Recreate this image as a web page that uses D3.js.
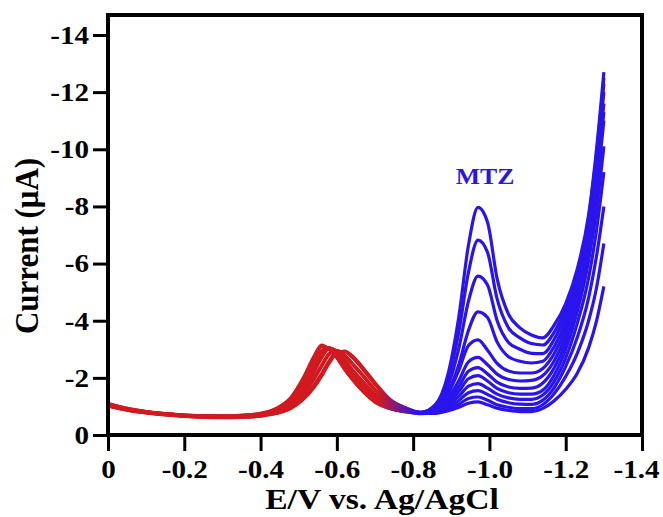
<!DOCTYPE html>
<html>
<head>
<meta charset="utf-8">
<script src="https://cdn.jsdelivr.net/npm/d3@7"></script>
<style>
  body { margin: 0; background: #fff; }
  text { font-family: "Liberation Serif", "Times New Roman", serif; font-weight: bold; }
</style>
</head>
<body>
<script>
// potential grid (V vs Ag/AgCl)
var potential = [0, -0.05, -0.1, -0.15, -0.2, -0.25, -0.3, -0.35, -0.4, -0.44, -0.48, -0.51, -0.54, -0.56, -0.58, -0.6, -0.62, -0.64, -0.67, -0.7, -0.74, -0.78, -0.82,
                 -0.86, -0.89, -0.92, -0.945, -0.97, -0.995, -1.02, -1.05, -1.08, -1.11, -1.14, -1.17, -1.2, -1.23, -1.26, -1.28, -1.3];

// current (uA) for each scan (plotted as negative)
var scan1  = [1.10,0.93,0.82,0.75,0.70,0.67,0.67,0.69,0.76,0.92,1.32,1.95,2.75,3.15,3.00,2.70,2.30,1.95,1.50,1.15,0.92,0.82,0.78, 1.09,2.06,4.16,6.64,7.97,7.45,5.48,4.23,3.75,3.50,3.40,3.85,4.60,5.80,7.70,9.90,12.7];
var scan2  = [1.02,0.88,0.78,0.71,0.66,0.63,0.62,0.63,0.67,0.76,0.95,1.25,1.70,2.10,2.55,2.88,2.93,2.75,2.30,1.80,1.22,0.95,0.80, 1.05,1.87,3.63,5.69,6.82,6.39,4.77,3.75,3.40,3.20,3.15,3.60,4.45,5.65,7.60,9.75,12.5];
var scan3  = [1.08,0.92,0.81,0.74,0.69,0.66,0.66,0.68,0.74,0.89,1.26,1.85,2.62,3.08,3.02,2.76,2.38,2.02,1.56,1.20,0.94,0.83,0.78, 1.00,1.66,3.05,4.68,5.56,5.25,4.01,3.24,3.00,2.86,2.85,3.35,4.25,5.50,7.50,9.60,12.3];
var scan4  = [1.06,0.90,0.80,0.73,0.68,0.65,0.64,0.66,0.71,0.84,1.12,1.55,2.20,2.70,3.02,2.95,2.65,2.30,1.85,1.42,1.05,0.88,0.78, 0.94,1.45,2.48,3.66,4.31,4.11,3.26,2.74,2.58,2.52,2.58,3.10,4.00,5.35,7.35,9.35,12.0];
var scan5  = [1.05,0.89,0.79,0.72,0.67,0.64,0.63,0.65,0.69,0.80,1.04,1.40,1.95,2.40,2.82,2.95,2.80,2.52,2.07,1.60,1.13,0.90,0.78, 0.90,1.40,2.27,3.13,3.33,2.97,2.51,2.24,2.17,2.17,2.33,2.85,3.75,5.15,7.15,9.05,11.6];
var scan6  = [1.07,0.91,0.81,0.74,0.69,0.66,0.65,0.67,0.73,0.87,1.20,1.72,2.45,2.95,3.05,2.85,2.50,2.12,1.66,1.28,0.98,0.84,0.77, 0.88,1.26,1.91,2.56,2.72,2.46,2.13,1.94,1.89,1.91,2.08,2.60,3.50,4.90,6.90,8.80,11.3];
var scan7  = [1.03,0.88,0.78,0.71,0.66,0.63,0.62,0.64,0.68,0.77,0.97,1.28,1.75,2.15,2.60,2.90,2.92,2.72,2.27,1.77,1.20,0.93,0.78, 0.86,1.17,1.70,2.23,2.36,2.14,1.85,1.68,1.63,1.64,1.82,2.35,3.25,4.65,6.60,8.50,11.0];
var scan8  = [1.06,0.90,0.80,0.73,0.68,0.65,0.64,0.66,0.72,0.85,1.14,1.58,2.24,2.74,3.03,2.93,2.62,2.27,1.82,1.40,1.04,0.86,0.77, 0.84,1.10,1.53,1.97,2.08,1.89,1.63,1.48,1.43,1.43,1.57,2.10,3.00,4.30,6.10,7.80,10.1];
var scan9  = [1.09,0.93,0.82,0.75,0.70,0.67,0.66,0.69,0.75,0.91,1.30,1.92,2.70,3.12,3.01,2.72,2.33,1.97,1.52,1.17,0.93,0.81,0.76, 0.82,1.03,1.36,1.71,1.80,1.64,1.43,1.30,1.25,1.25,1.40,1.88,2.70,3.90,5.50,7.10,9.20];
var scan10 = [1.05,0.89,0.79,0.72,0.67,0.64,0.63,0.65,0.70,0.81,1.06,1.43,2.00,2.45,2.85,2.95,2.78,2.49,2.04,1.57,1.11,0.88,0.76, 0.80,0.96,1.21,1.48,1.55,1.42,1.25,1.13,1.08,1.07,1.22,1.66,2.40,3.40,4.80,6.20,8.00];
var scan11 = [1.07,0.91,0.81,0.74,0.69,0.66,0.65,0.67,0.73,0.86,1.18,1.68,2.40,2.90,3.05,2.87,2.53,2.15,1.69,1.30,0.99,0.84,0.75, 0.78,0.90,1.08,1.28,1.33,1.22,1.06,0.97,0.92,0.92,1.06,1.45,2.05,2.85,4.00,5.10,6.70];
var scan12 = [1.02,0.87,0.77,0.70,0.65,0.62,0.61,0.62,0.66,0.75,0.93,1.22,1.66,2.06,2.52,2.86,2.94,2.77,2.33,1.83,1.24,0.95,0.76, 0.76,0.84,0.97,1.11,1.16,1.06,0.94,0.86,0.82,0.82,0.93,1.20,1.60,2.15,3.05,3.95,5.20];
var scans = [scan1, scan2, scan3, scan4, scan5, scan6, scan7, scan8, scan9, scan10, scan11, scan12];

var xTicks = [0, -0.2, -0.4, -0.6, -0.8, -1.0, -1.2, -1.4];
var yTicks = [0, -2, -4, -6, -8, -10, -12, -14];

var width = 663, height = 517;
var stretch = 1.12; // the original figure is a little wider than tall

var svg = d3.select("body").append("svg")
  .attr("width", width)
  .attr("height", height);

var x = d3.scaleLinear().domain([0, -1.4]).range([108, 642]);
var y = d3.scaleLinear().domain([0, -14.7]).range([435, 15]);

// red -> blue along the potential
var defs = svg.append("defs");
var grad = defs.append("linearGradient")
  .attr("id", "scanGrad")
  .attr("gradientUnits", "userSpaceOnUse")
  .attr("x1", x(-0.71)).attr("y1", 0)
  .attr("x2", x(-0.81)).attr("y2", 0);
grad.append("stop").attr("offset", "0%").attr("stop-color", "#d11a1f");
grad.append("stop").attr("offset", "100%").attr("stop-color", "#2a14ee");

var line = d3.line()
  .x(function(d, i) { return x(potential[i]); })
  .y(function(d) { return y(-d); })
  .curve(d3.curveMonotoneX);

svg.append("g")
  .selectAll("path")
  .data(scans)
  .join("path")
  .attr("d", line)
  .attr("fill", "none")
  .attr("stroke", "url(#scanGrad)")
  .attr("stroke-width", 3.2)
  .attr("stroke-linejoin", "round");

// axes
var xAxis = svg.append("g")
  .attr("transform", "translate(0,435)")
  .call(d3.axisBottom(x).tickValues(xTicks).tickSize(16).tickPadding(9)
    .tickFormat(function(d) { return d === 0 ? "0" : "-" + Math.abs(d).toFixed(1); }));

var yAxis = svg.append("g")
  .attr("transform", "translate(108,0)")
  .call(d3.axisLeft(y).tickValues(yTicks).tickSize(15).tickPadding(4)
    .tickFormat(function(d) { return d === 0 ? "0" : "-" + Math.abs(d); }));

[xAxis, yAxis].forEach(function(g) {
  g.select(".domain").remove();
  g.selectAll(".tick line").attr("stroke", "#000").attr("stroke-width", 3);
  g.selectAll(".tick text")
    .attr("fill", "#000")
    .style("font-size", "26px");
});
xAxis.selectAll(".tick text")
  .attr("x", function(d) { return d === -1.4 ? -6 / stretch : 0; })
  .attr("transform", "scale(" + stretch + ",1)");
yAxis.selectAll(".tick text")
  .attr("x", -19 / stretch)
  .attr("transform", "scale(" + stretch + ",1)");

// frame
svg.append("rect")
  .attr("x", 108).attr("y", 15)
  .attr("width", 642 - 108).attr("height", 435 - 15)
  .attr("fill", "none")
  .attr("stroke", "#000")
  .attr("stroke-width", 4);

svg.append("text")
  .attr("transform", "translate(485,184) scale(" + stretch + ",1)")
  .attr("text-anchor", "middle")
  .attr("fill", "#2a14ee")
  .style("font-size", "23px")
  .text("MTZ");

svg.append("text")
  .attr("transform", "translate(382,509) scale(" + stretch + ",1)")
  .attr("text-anchor", "middle")
  .attr("fill", "#000")
  .style("font-size", "30px")
  .text("E/V vs. Ag/AgCl");

svg.append("text")
  .attr("transform", "translate(38,246) scale(" + stretch + ",1) rotate(-90)")
  .attr("text-anchor", "middle")
  .attr("fill", "#000")
  .style("font-size", "31px")
  .text("Current (μA)");
</script>
</body>
</html>
